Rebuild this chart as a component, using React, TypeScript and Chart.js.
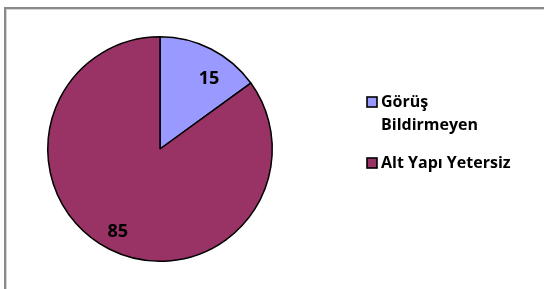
import React, { useEffect, useRef } from "react";
import { Chart, registerables } from "chart.js";

Chart.register(...registerables);

const categories = ["Görüş Bildirmeyen", "Alt Yapı Yetersiz"];
const legendLines = [["Görüş", "Bildirmeyen"], ["Alt Yapı Yetersiz"]];
const values = [15, 85];
const colors = ["#9999FF", "#993366"];

const FONT = "'Open Sans', Lato, sans-serif";

const framePlugin = {
  id: "frame",
  beforeDraw(chart: any) {
    const ctx = chart.ctx;
    ctx.save();
    ctx.fillStyle = "#ffffff";
    ctx.fillRect(0, 0, chart.width, chart.height);
    ctx.fillStyle = "#8a8a8a";
    ctx.fillRect(4, 7, chart.width - 4, 2);
    ctx.fillRect(4, 7, 2, chart.height - 7);
    ctx.fillStyle = "#d4d4d4";
    ctx.fillRect(6, 9, chart.width - 6, 1);
    ctx.fillRect(6, 9, 1, chart.height - 9);
    ctx.restore();
  },
};

const labelPlugin = {
  id: "sliceLabels",
  afterDatasetsDraw(chart: any) {
    const ctx = chart.ctx;
    const meta = chart.getDatasetMeta(0);
    const ds = chart.data.datasets[0];
    const factors = [0.76, 0.83];
    const shifts = [8, 0];
    ctx.save();
    ctx.font = `bold 18px ${FONT}`;
    ctx.fillStyle = "#000";
    ctx.textAlign = "center";
    ctx.textBaseline = "middle";
    meta.data.forEach((arc: any, i: number) => {
      const { x, y, startAngle, endAngle, outerRadius } = arc.getProps(
        ["x", "y", "startAngle", "endAngle", "outerRadius"],
        true
      );
      const mid = (startAngle + endAngle) / 2 + (shifts[i] * Math.PI) / 180;
      const r = outerRadius * factors[i];
      ctx.fillText(String(ds.data[i]), x + Math.cos(mid) * r, y + Math.sin(mid) * r);
    });
    ctx.restore();
  },
};

const legendPlugin = {
  id: "customLegend",
  afterDraw(chart: any) {
    const ctx = chart.ctx;
    const x0 = 367;
    const tops = [102, 163];
    ctx.save();
    ctx.font = `bold 16px ${FONT}`;
    ctx.textBaseline = "middle";
    ctx.textAlign = "left";
    legendLines.forEach((lines, i) => {
      const cy = tops[i];
      ctx.fillStyle = colors[i];
      ctx.fillRect(x0, cy - 5, 10, 10);
      ctx.strokeStyle = "#000";
      ctx.lineWidth = 1.6;
      ctx.strokeRect(x0, cy - 5, 10, 10);
      ctx.fillStyle = "#000";
      lines.forEach((t, j) => {
        ctx.fillText(t, x0 + 14, cy + j * 23);
      });
    });
    ctx.restore();
  },
};

export default function App() {
  const ref = useRef<HTMLCanvasElement | null>(null);
  useEffect(() => {
    if (!ref.current) return;
    const chart = new Chart(ref.current, {
      type: "pie",
      data: {
        labels: categories,
        datasets: [
          {
            data: values,
            backgroundColor: colors,
            borderColor: "#000000",
            borderWidth: 1.5,
          },
        ],
      },
      options: {
        responsive: false,
        animation: false,
        layout: { padding: { left: 47, right: 271, top: 36, bottom: 27 } },
        plugins: {
          legend: { display: false },
          tooltip: { enabled: false },
        },
      },
      plugins: [framePlugin, labelPlugin, legendPlugin],
    });
    return () => chart.destroy();
  }, []);
  return (
    <div style={{ position: "absolute", left: 0, top: 0, width: 544, height: 289 }}>
      <canvas ref={ref} width={544} height={289} style={{ display: "block" }} />
    </div>
  );
}
